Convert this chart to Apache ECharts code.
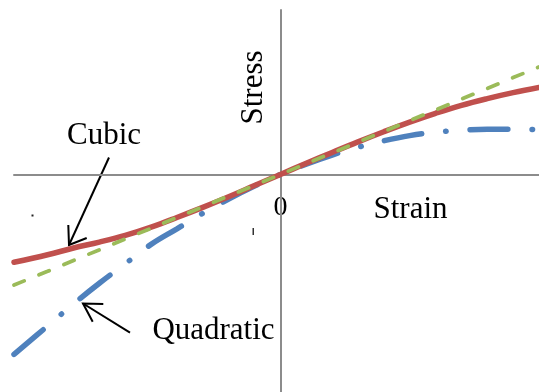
<!DOCTYPE html>
<html>
<head>
<meta charset="utf-8">
<script src="https://cdn.jsdelivr.net/npm/echarts@6/dist/echarts.min.js"></script>
<style>
  html, body { margin: 0; padding: 0; background: #fff; }
  #chart { width: 539px; height: 392px; }
</style>
</head>
<body>
<div id="chart"></div>
<script>
// Strain samples (horizontal) and the three stress models (vertical)
const strain = [-1.03, -0.9, -0.8, -0.7, -0.6, -0.5, -0.4, -0.3, -0.2, -0.1, 0,
                 0.1, 0.2, 0.3, 0.4, 0.5, 0.6, 0.7, 0.8, 0.9, 1.0];
const quadratic = [-0.695, -0.585, -0.500, -0.420, -0.345, -0.270, -0.210, -0.150, -0.095, -0.045, 0,
                    0.040, 0.075, 0.105, 0.130, 0.150, 0.163, 0.171, 0.175, 0.175, 0.173];
const cubic = [-0.339, -0.310, -0.284, -0.261, -0.235, -0.203, -0.166, -0.127, -0.086, -0.043, 0,
                0.043, 0.085, 0.126, 0.165, 0.202, 0.236, 0.267, 0.293, 0.316, 0.336];
const linear = [-0.427, -0.374, -0.332, -0.291, -0.249, -0.208, -0.166, -0.125, -0.083, -0.042, 0,
                 0.042, 0.083, 0.125, 0.166, 0.208, 0.249, 0.291, 0.332, 0.374, 0.415];

// Text drawn on the chart
const xName = 'Strain';
const yName = 'Stress';
const originLabel = '0';
const cubicLabel = 'Cubic';
const quadLabel = 'Quadratic';

const pairs = (ys) => strain.map((x, i) => [x, ys[i]]);

const serif = '"Liberation Serif", "Times New Roman", serif';
const axisStyle = { color: '#8c8c8c', width: 2 };

const chart = echarts.init(document.getElementById('chart'), null, { renderer: 'canvas' });

chart.setOption({
  animation: false,
  backgroundColor: '#ffffff',
  grid: { left: 14, right: 0, top: 10, bottom: 0, containLabel: false },
  xAxis: {
    type: 'value', min: -1.03, max: 1.0,
    axisLine: { onZero: true, lineStyle: axisStyle },
    axisTick: { show: false }, axisLabel: { show: false }, splitLine: { show: false }
  },
  yAxis: {
    type: 'value', min: -0.84, max: 0.635,
    axisLine: { onZero: true, lineStyle: axisStyle },
    axisTick: { show: false }, axisLabel: { show: false }, splitLine: { show: false }
  },
  series: [
    {
      name: quadLabel, type: 'line', data: pairs(quadratic), smooth: 0.4,
      showSymbol: false, clip: true,
      lineStyle: { color: '#4F81BD', width: 5.5, type: [38, 24, 0.5, 24], cap: 'round' }
    },
    {
      name: cubicLabel, type: 'line', data: pairs(cubic), smooth: 0.4,
      showSymbol: false, clip: true,
      lineStyle: { color: '#C0504D', width: 5.5, type: 'solid', cap: 'round' }
    },
    {
      name: 'Linear', type: 'line', data: pairs(linear), smooth: false,
      showSymbol: false, clip: true,
      lineStyle: { color: '#9BBB59', width: 3.75, type: [11, 16], cap: 'round' }
    }
  ],
  graphic: [
    { type: 'text', x: 254, y: 87.5, rotation: Math.PI / 2,
      style: { text: yName, font: '31px ' + serif, fill: '#000', align: 'center', verticalAlign: 'middle' } },
    { type: 'text', x: 410.5, y: 209.5,
      style: { text: xName, font: '31px ' + serif, fill: '#000', align: 'center', verticalAlign: 'middle' } },
    { type: 'text', x: 280.5, y: 207.5,
      style: { text: originLabel, font: '28px ' + serif, fill: '#000', align: 'center', verticalAlign: 'middle' } },
    { type: 'text', x: 104, y: 135.5,
      style: { text: cubicLabel, font: '31px ' + serif, fill: '#000', align: 'center', verticalAlign: 'middle' } },
    { type: 'text', x: 213.5, y: 331,
      style: { text: quadLabel, font: '31px ' + serif, fill: '#000', align: 'center', verticalAlign: 'middle' } },
    // pointer to the cubic curve
    { type: 'polyline', shape: { points: [[109, 157.5], [69, 245]] },
      style: { stroke: '#000', lineWidth: 2, fill: null } },
    { type: 'polyline', shape: { points: [[68.3, 225], [69, 245], [86.7, 238]] },
      style: { stroke: '#000', lineWidth: 2, fill: null } },
    // pointer to the quadratic curve
    { type: 'polyline', shape: { points: [[130, 332.7], [83, 303.5]] },
      style: { stroke: '#000', lineWidth: 2, fill: null } },
    { type: 'polyline', shape: { points: [[103.3, 304], [83, 303.5], [92.7, 321.7]] },
      style: { stroke: '#000', lineWidth: 2, fill: null } },
    // small marks left of the vertical axis
    { type: 'rect', shape: { x: 31.5, y: 214.5, width: 2, height: 2 }, style: { fill: '#222' } },
    { type: 'rect', shape: { x: 252.5, y: 228, width: 1.5, height: 7 }, style: { fill: '#333' } }
  ]
});
</script>
</body>
</html>
